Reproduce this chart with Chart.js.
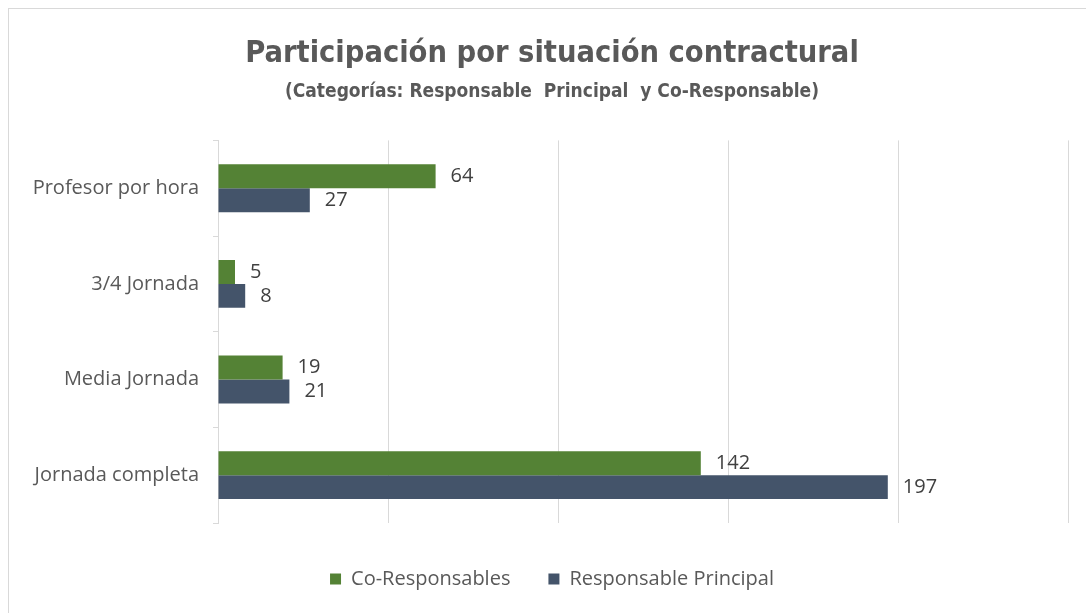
<!DOCTYPE html>
<html>
<head>
<meta charset="utf-8">
<script src="https://cdn.jsdelivr.net/npm/chart.js@4/dist/chart.umd.min.js"></script>
<style>
  html, body { margin: 0; padding: 0; background: #fff; }
  #wrap { width: 1086px; height: 613px; position: relative; }
</style>
</head>
<body>
<div id="wrap"><canvas id="chart"></canvas></div>
<script>
const categories = ['Profesor por hora', '3/4 Jornada', 'Media Jornada', 'Jornada completa'];
const coResponsables = [64, 5, 19, 142];
const responsablePrincipal = [27, 8, 21, 197];

const textColor = '#595959';
const titleFont = "'Liberation Sans Narrow', 'DejaVu Sans Condensed', sans-serif";
const bodyFont = "'Open Sans', 'Noto Sans', sans-serif";

// outer frame like the spreadsheet chart border
const framePlugin = {
    id: 'frame',
    beforeDraw(chart) {
        const ctx = chart.ctx;
        ctx.save();
        ctx.strokeStyle = '#d9d9d9';
        ctx.lineWidth = 1;
        ctx.strokeRect(8.5, 8.5, chart.width + 10, chart.height + 10);
        ctx.restore();
    }
};

// value labels at the end of each bar
const valueLabels = {
    id: 'valueLabels',
    afterDatasetsDraw(chart) {
        const ctx = chart.ctx;
        ctx.save();
        ctx.font = '20px ' + bodyFont;
        ctx.fillStyle = '#404040';
        ctx.textAlign = 'left';
        ctx.textBaseline = 'middle';
        chart.data.datasets.forEach((ds, i) => {
            const meta = chart.getDatasetMeta(i);
            meta.data.forEach((bar, j) => {
                ctx.fillText(ds.data[j], bar.x + 15, bar.y);
            });
        });
        ctx.restore();
    }
};

new Chart(document.getElementById('chart'), {
    type: 'bar',
    data: {
        labels: categories,
        datasets: [
            {
                label: 'Co-Responsables',
                data: coResponsables,
                backgroundColor: '#548235',
                barPercentage: 1.0,
                categoryPercentage: 0.5
            },
            {
                label: 'Responsable Principal',
                data: responsablePrincipal,
                backgroundColor: '#44546A',
                barPercentage: 1.0,
                categoryPercentage: 0.5
            }
        ]
    },
    options: {
        indexAxis: 'y',
        responsive: true,
        maintainAspectRatio: false,
        animation: false,
        layout: {
            // titles and legend are centred on the whole (cropped) chart frame
            padding: { left: 18, right: 0, top: 0, bottom: 14 }
        },
        scales: {
            x: {
                min: 0,
                max: 250,
                afterFit(scale) { scale.height = 8; },
                ticks: { display: false, stepSize: 50 },
                grid: { color: '#d9d9d9', drawTicks: false },
                border: { display: false }
            },
            y: {
                afterFit(scale) { scale.width = 200; },
                ticks: {
                    color: textColor,
                    font: { family: bodyFont, size: 20 },
                    padding: 14
                },
                grid: {
                    offset: true,
                    drawOnChartArea: false,
                    color: '#d9d9d9',
                    tickLength: 5
                },
                border: { color: '#d9d9d9' }
            },
            // empty spacer on the right so the plot ends before the frame edge
            spacer: {
                type: 'linear',
                position: 'right',
                afterFit(scale) { scale.width = 18; },
                ticks: { display: false },
                grid: { display: false },
                border: { display: false }
            }
        },
        plugins: {
            title: {
                display: true,
                text: 'Participación por situación contractural',
                color: textColor,
                font: { family: titleFont, size: 30.5, weight: 'bold' },
                padding: { top: 36, bottom: 6 }
            },
            subtitle: {
                display: true,
                text: '(Categorías: Responsable  Principal  y Co-Responsable)',
                color: textColor,
                font: { family: titleFont, size: 19, weight: 'bold' },
                padding: { top: 2, bottom: 37 }
            },
            legend: {
                position: 'bottom',
                labels: {
                    color: textColor,
                    font: { family: bodyFont, size: 20 },
                    boxWidth: 11,
                    boxHeight: 11,
                    padding: 38
                }
            },
            tooltip: { enabled: false }
        }
    },
    plugins: [framePlugin, valueLabels]
});
</script>
</body>
</html>
